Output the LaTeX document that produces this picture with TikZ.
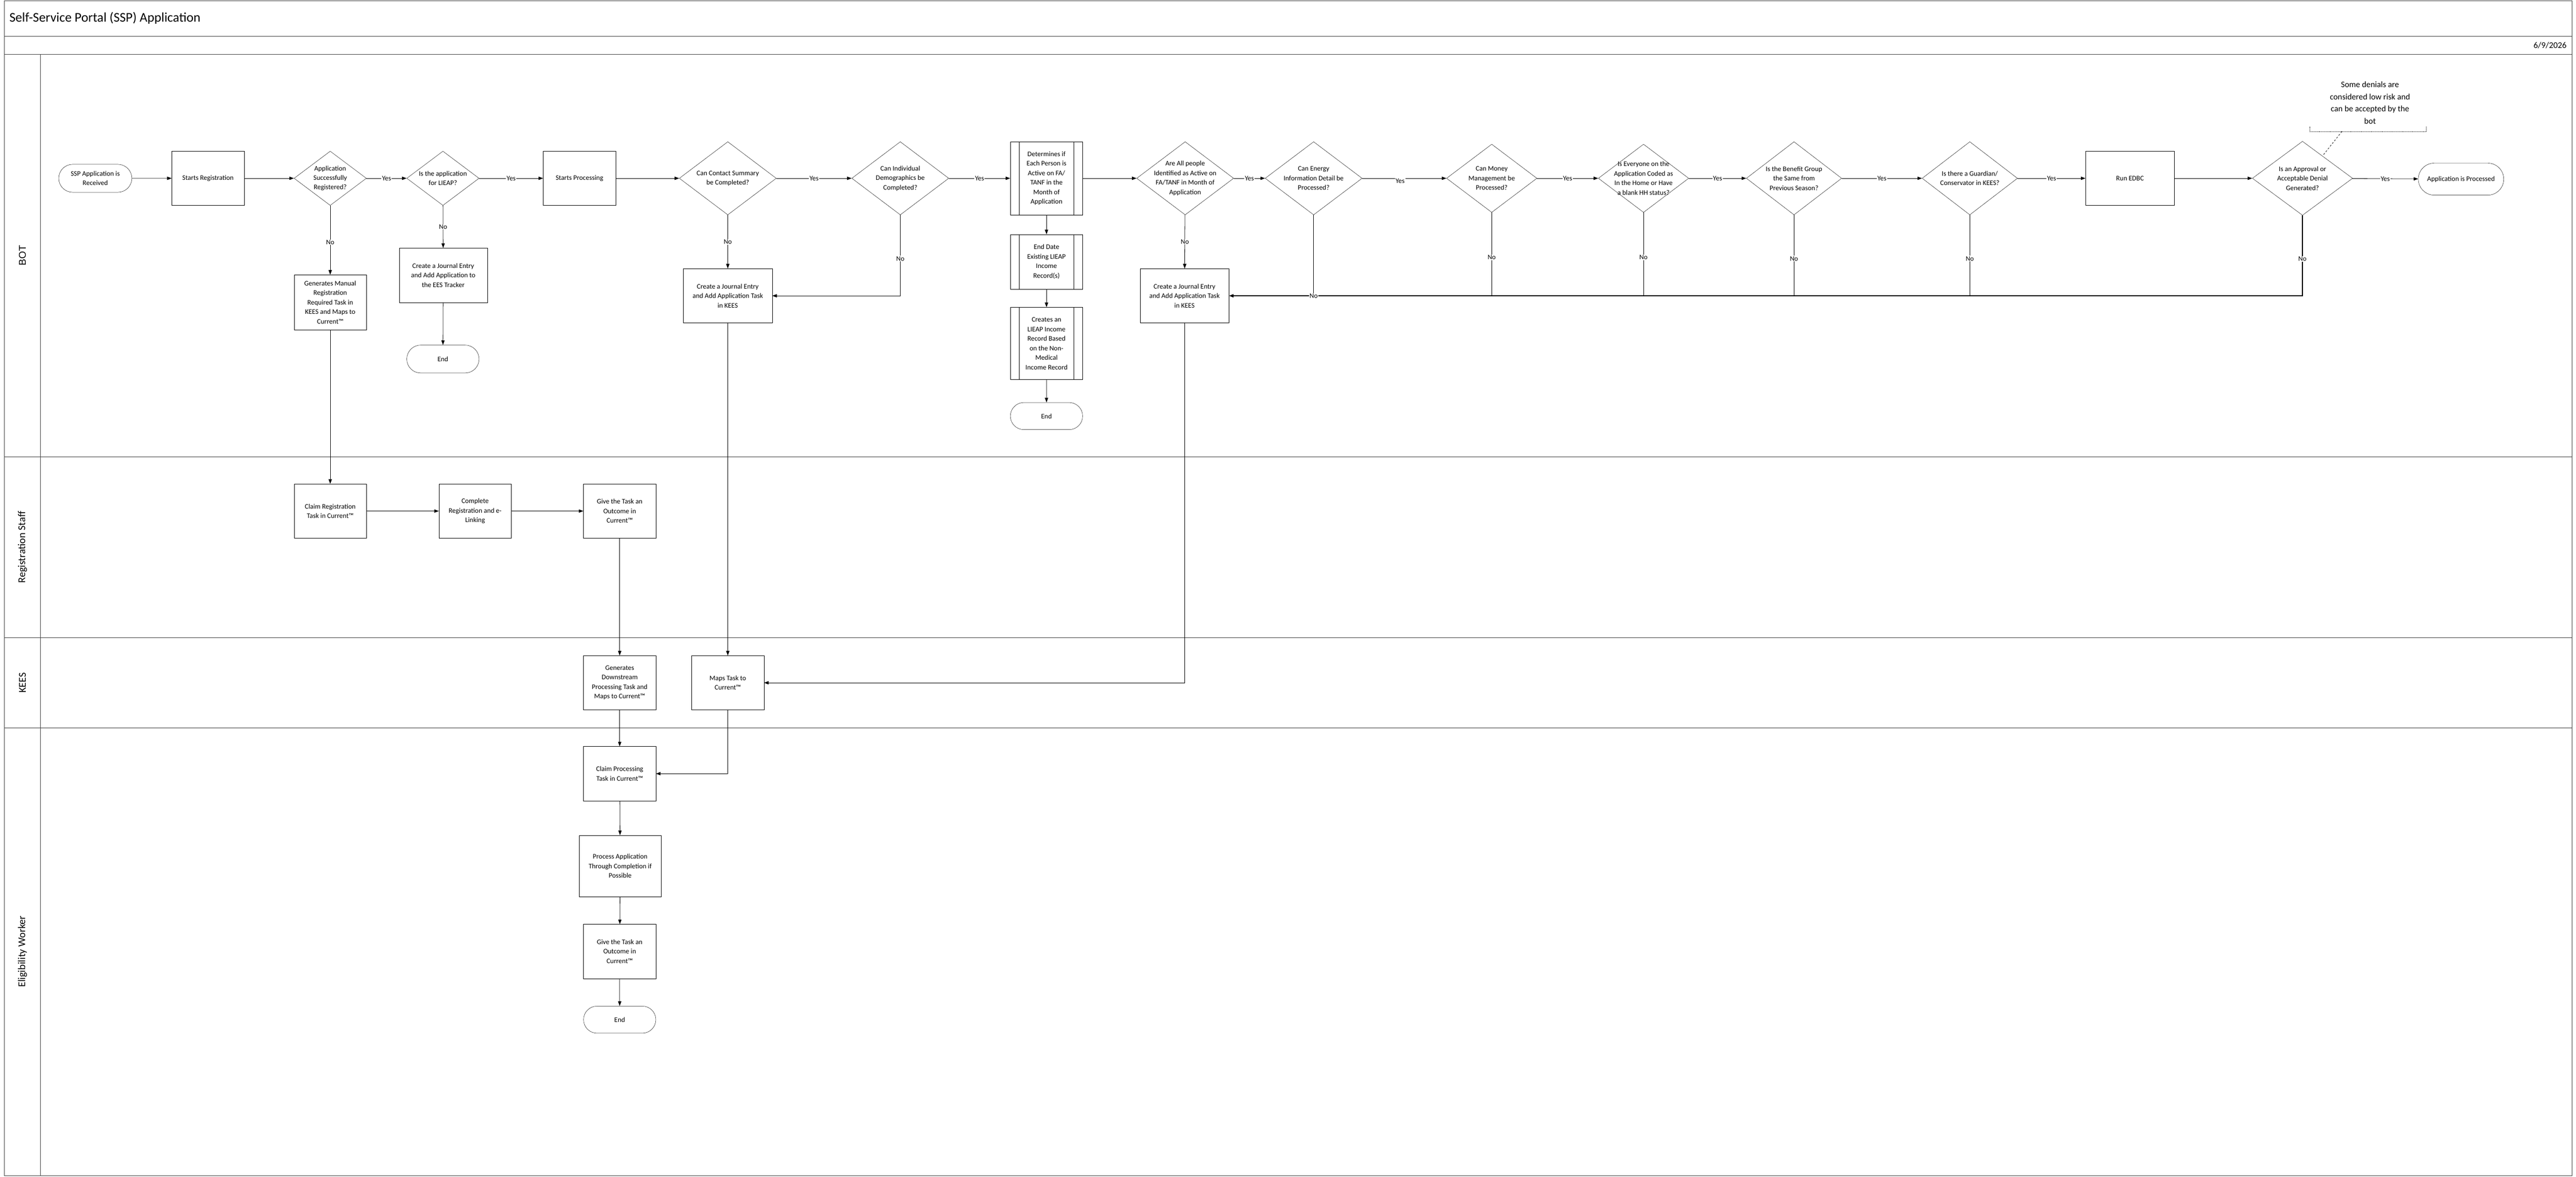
\documentclass[tikz,border=0pt]{standalone}
\usepackage{fontspec}
\setmainfont{Carlito}
\newfontfamily\arialf{Liberation Sans}
\usetikzlibrary{arrows.meta,shapes.geometric,shapes.misc}
\begin{document}
\begin{tikzpicture}[x=1mm,y=-1mm,
  every node/.style={font=\fontsize{12}{16.5}\selectfont},
  proc/.style={draw,rectangle,inner sep=0pt,minimum width=44mm,minimum height=33mm,align=center},
  pre/.style={proc,path picture={\draw ([xshift=5.5mm]path picture bounding box.north west)--([xshift=5.5mm]path picture bounding box.south west);
     \draw ([xshift=-5.5mm]path picture bounding box.north east)--([xshift=-5.5mm]path picture bounding box.south east);}},
  term/.style={draw,rounded rectangle,inner sep=0pt,minimum width=44mm,minimum height=17mm,align=center},
  dec/.style={draw,diamond,inner sep=0pt,minimum width=59mm,minimum height=44.5mm},
  txt/.style={align=center},
  ar/.style={line width=0.7pt,-{Triangle[length=2.8mm,width=2mm]}},
  ln/.style={line width=0.7pt},
  lbl/.style={fill=white,inner sep=1pt},
  lane/.style={line width=0.9pt,draw=black!75}]
\useasboundingbox (0,0) rectangle (1568,716);
% frame
\draw[lane] (2.7,0.5) rectangle (1565.5,715.5);
\draw[lane] (2.7,22) -- (1565.5,22);
\draw[lane] (2.7,33) -- (1565.5,33);
\draw[lane] (24.7,33) -- (24.7,715.5);
\draw[lane] (2.7,278) -- (1565.5,278);
\draw[lane] (2.7,388) -- (1565.5,388);
\draw[lane] (2.7,443) -- (1565.5,443);
\node[anchor=west,font=\fontsize{23}{26}\selectfont] (title) at (4.5,11) {Self-Service Portal (SSP) Application};
\node[anchor=east,font=\fontsize{15}{18}\selectfont] (date) at (1563.5,27.5) {6/9/2026};
\node[rotate=90,font=\arialf\fontsize{17}{20}\selectfont] (lbot) at (13.7,155.5) {BOT};
\node[rotate=90,font=\fontsize{18}{20}\selectfont] (lreg) at (13.7,333) {Registration Staff};
\node[rotate=90,font=\fontsize{18}{20}\selectfont] (lkees) at (13.7,415.5) {KEES};
\node[rotate=90,font=\fontsize{18}{20}\selectfont] (lew) at (13.7,579) {Eligibility Worker};
% BOT nodes
\node[term,minimum width=44.5mm] (s0) at (58,108.5) {SSP Application is\\Received};
\node[proc] (sr) at (126.6,108.5) {Starts Registration};
\node[dec,minimum width=44mm,minimum height=33mm,label={[txt]center:Application\\Successfully\\Registered?}] (d1) at (201,108.5) {};
\node[dec,minimum width=44mm,minimum height=33mm,label={[txt]center:Is the application\\for LIEAP?}] (d2) at (269.6,108.5) {};
\node[proc] (sp) at (352.7,108.5) {Starts Processing};
\node[dec,label={[txt]center:Can Contact Summary\\be Completed?}] (d3) at (443,108.5) {};
\node[dec,label={[txt]center:Can Individual\\Demographics be\\Completed?}] (d4) at (548,108.5) {};
\node[pre,minimum height=44.5mm] (p1) at (637,108.5) {Determines if\\Each Person is\\Active on FA/\\TANF in the\\Month of\\Application};
\node[dec,label={[txt]center:Are All people\\Identified as Active on\\FA/TANF in Month of\\Application}] (d5) at (721.4,108.5) {};
\node[dec,label={[txt]center:Can Energy\\Information Detail be\\Processed?}] (d6) at (799.6,108.5) {};
\node[dec,minimum width=55mm,minimum height=41.5mm,label={[txt]center:Can Money\\Management be\\Processed?}] (d7) at (908,108.5) {};
\node[dec,minimum width=55mm,minimum height=41.5mm,label={[txt]center:Is Everyone on the\\Application Coded as\\In the Home or Have\\a blank HH status?}] (d8) at (1000.4,108.5) {};
\node[dec,minimum width=58mm,label={[txt]center:Is the Benefit Group\\the Same from\\Previous Season?}] (d9) at (1092,108.5) {};
\node[dec,minimum width=58mm,label={[txt]center:Is there a Guardian/\\Conservator in KEES?}] (d10) at (1199,108.5) {};
\node[proc,minimum width=54mm] (edbc) at (1296.5,108.5) {Run EDBC};
\node[dec,minimum width=61mm,minimum height=45mm,label={[txt]center:Is an Approval or\\Acceptable Denial\\Generated?}] (d11) at (1401.5,108.5) {};
\node[term,minimum width=52mm,minimum height=19.5mm] (ap) at (1498,109) {Application is Processed};
\node[txt,font=\fontsize{14.5}{21}\selectfont] (note) at (1442.6,62.5) {Some denials are\\considered low risk and\\can be accepted by the\\bot};
\node[proc,minimum width=53.6mm] (j1) at (269.8,167.5) {Create a Journal Entry\\and Add Application to\\the EES Tracker};
\node[term] (e1) at (269.6,218.5) {End};
\node[proc,minimum height=33.5mm] (g) at (201,184) {Generates Manual\\Registration\\Required Task in\\KEES and Maps to\\Current™};
\node[proc,minimum width=54mm] (j2) at (443,180) {Create a Journal Entry\\and Add Application Task\\in KEES};
\node[pre,minimum height=33.3mm] (p2) at (637,159.3) {End Date\\Existing LIEAP\\Income\\Record(s)};
\node[pre,minimum height=44mm] (p3) at (637,209) {Creates an\\LIEAP Income\\Record Based\\on the Non-\\Medical\\Income Record};
\node[term,minimum height=16.5mm] (e2) at (637,253.2) {End};
\node[proc,minimum width=54mm] (j3) at (721,180) {Create a Journal Entry\\and Add Application Task\\in KEES};
% lower lanes
\node[proc] (cr) at (201,311) {Claim Registration\\Task in Current™};
\node[proc] (cp) at (289.2,311) {Complete\\Registration and e-\\Linking};
\node[proc] (gt) at (377.2,311) {Give the Task an\\Outcome in\\Current™};
\node[proc] (gd) at (377.2,415.5) {Generates\\Downstream\\Processing Task and\\Maps to Current™};
\node[proc] (mt) at (443,415.5) {Maps Task to\\Current™};
\node[proc] (cl) at (377.2,470.8) {Claim Processing\\Task in Current™};
\node[proc,minimum width=50mm,minimum height=37.4mm] (pa) at (377.5,527) {Process Application\\Through Completion if\\Possible};
\node[proc] (g2) at (377.2,579) {Give the Task an\\Outcome in\\Current™};
\node[term,minimum height=16.5mm] (e3) at (377.2,620.5) {End};
% connectors
\draw[ar] (s0) -- (sr);
\draw[ar] (sr) -- (d1);
\draw[ar] (d1) -- node[lbl]{Yes} (d2);
\draw[ar] (d2) -- node[lbl]{Yes} (sp);
\draw[ar] (sp) -- (d3);
\draw[ar] (d3) -- node[lbl]{Yes} (d4);
\draw[ar] (d4) -- node[lbl]{Yes} (p1);
\draw[ar] (p1) -- (d5);
\draw[ar] (d5) -- node[lbl]{Yes} (d6);
\draw[ar] (d6) -- node[lbl,pos=0.45,yshift=-1.5mm]{Yes} (d7);
\draw[ar] (d7) -- node[lbl]{Yes} (d8);
\draw[ar] (d8) -- node[lbl]{Yes} (d9);
\draw[ar] (d9) -- node[lbl]{Yes} (d10);
\draw[ar] (d10) -- node[lbl]{Yes} (edbc);
\draw[ar] (edbc) -- (d11);
\draw[ar] (d11) -- node[lbl]{Yes} (ap);
\draw[ar] (d1) -- node[lbl,pos=0.53]{No} (g);
\draw[ar] (d2) -- node[lbl]{No} (j1);
\draw[ar] (j1) -- (e1);
\draw[ar] (d3) -- node[lbl]{No} (j2);
\draw[ar] (d4.south) |- node[lbl,pos=0.27]{No} (j2.east);
\draw[ar] (p1) -- (p2);
\draw[ar] (p2) -- (p3);
\draw[ar] (p3) -- (e2);
\draw[ar] (d5) -- node[lbl]{No} (j3);
\coordinate (bus) at (0,180);
\draw[line width=1.4pt,-{Triangle[length=2.8mm,width=2mm]}] (d11.south) |- (j3.east);
\draw[ln] (d11.south) -- node[lbl,pos=0.54]{No} (d11.south |- bus);
\draw[ln] (d10.south) -- node[lbl,pos=0.54]{No} (d10.south |- bus);
\draw[ln] (d9.south) -- node[lbl,pos=0.54]{No} (d9.south |- bus);
\draw[ln] (d8.south) -- node[lbl,pos=0.54]{No} (d8.south |- bus);
\draw[ln] (d7.south) -- node[lbl,pos=0.54]{No} (d7.south |- bus);
\draw[ln] (d6.south) -- node[lbl,pos=1]{No} (d6.south |- bus);
\draw[ar] (g) -- (cr);
\draw[ar] (cr) -- (cp);
\draw[ar] (cp) -- (gt);
\draw[ar] (gt) -- (gd);
\draw[ar] (j2) -- (mt);
\draw[ar] (j3.south) |- (mt.east);
\draw[ar] (gd) -- (cl);
\draw[ar] (mt.south) |- (cl.east);
\draw[ar] (cl) -- (pa);
\draw[ar] (pa) -- (g2);
\draw[ar] (g2) -- (e3);
% annotation bracket
\coordinate (nb) at (1425.5,80);
\coordinate (nd) at (1414,94.5);
\draw[ln,densely dotted] (1406,77) -- (1406,80) -- (1477,80) -- (1477,77);
\draw[ln,dashed] (nb) -- (nd);
\end{tikzpicture}
\end{document}
